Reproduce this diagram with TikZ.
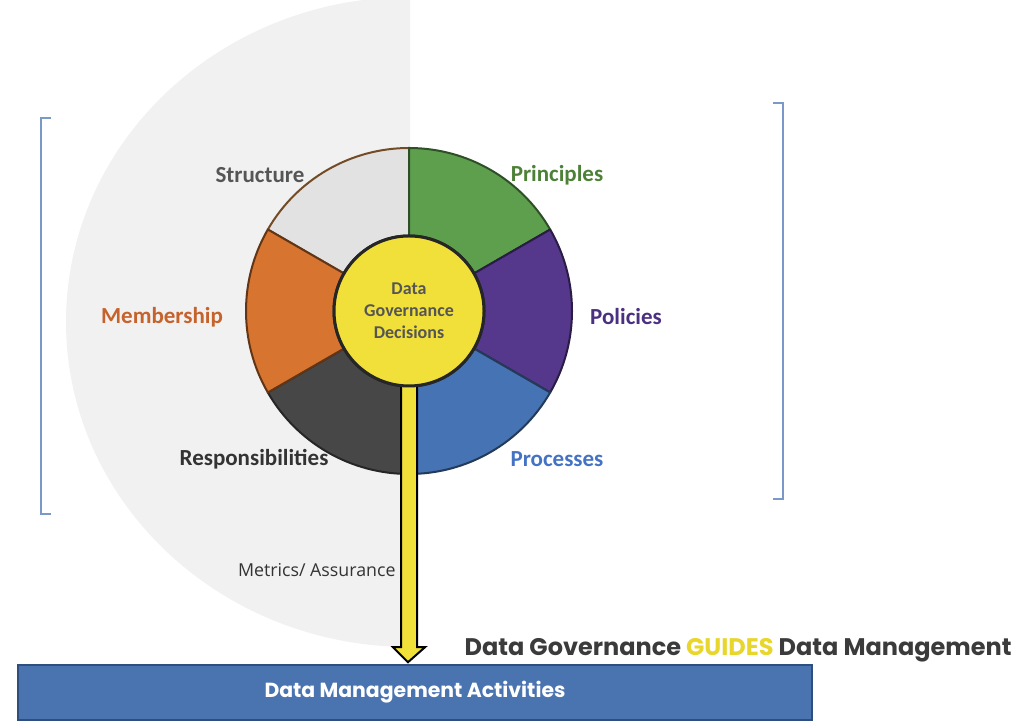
\documentclass[tikz,border=0pt]{standalone}
\usepackage{fontspec}
\setmainfont{Carlito}
\newfontfamily\titlefont{Poppins}
\newfontfamily\notefont{Open Sans}
\usetikzlibrary{positioning,calc,shapes}
\definecolor{backgray}{HTML}{F1F1F1}
\definecolor{bracketblue}{HTML}{7A98C8}
\definecolor{strucfill}{HTML}{E2E2E2}
\definecolor{structext}{HTML}{555555}
\definecolor{princfill}{HTML}{5E9F4E}
\definecolor{princtext}{HTML}{4D8138}
\definecolor{polfill}{HTML}{55378B}
\definecolor{poltext}{HTML}{4B2F80}
\definecolor{procfill}{HTML}{4673B3}
\definecolor{proctext}{HTML}{4472C4}
\definecolor{respfill}{HTML}{474747}
\definecolor{resptext}{HTML}{333333}
\definecolor{membfill}{HTML}{D77530}
\definecolor{membtext}{HTML}{C6622B}
\definecolor{decyellow}{HTML}{F1E03A}
\definecolor{guideyellow}{HTML}{E9D62C}
\definecolor{barblue}{HTML}{4A74B0}
\definecolor{barline}{HTML}{2E4E80}
\definecolor{titlegray}{HTML}{3B3B3B}
\newcommand{\segment}[4]{%
  \draw[segline, fill=#3, draw=#4]
    ($(cen)+(#1:163)$) arc[start angle=#1, end angle=#2, radius=163]
    -- ($(cen)+(#2:75)$) arc[start angle=#2, end angle=#1, radius=75] -- cycle;}

\begin{document}
\begin{tikzpicture}[x=0.5pt, y=0.5pt,
    segline/.style={line width=1pt, line join=round},
    seglabel/.style={font=\bfseries\fontsize{11.5}{13}\selectfont},
    bracket/.style={draw=bracketblue, line width=0.6pt}]
  \useasboundingbox (0,0) rectangle (1026,721);

  % Grey half disc behind the left part
  \fill[backgray] (410,724) arc[start angle=90, end angle=270, x radius=344, y radius=325] -- cycle;

  % Brackets
  \draw[bracket] (51,603) -- (41,603) -- (41,207) -- (51,207);
  \draw[bracket] (773,618) -- (783,618) -- (783,222) -- (773,222);

  % Ring of six segments
  \coordinate (cen) at (409,410);
  \segment{90}{150}{strucfill}{brown!60!black}
  \segment{30}{90}{princfill}{princfill!50!black}
  \segment{-30}{30}{polfill}{polfill!50!black}
  \segment{-90}{-30}{procfill}{procfill!50!black}
  \segment{210}{270}{respfill}{black!85}
  \segment{150}{210}{membfill}{membfill!45!black}

  % Labels round the ring
  \node[seglabel, text=structext] (struc) at (260,546) {Structure};
  \node[seglabel, text=princtext] (princ) at (557,546) {Principles};
  \node[seglabel, text=poltext] (pol) at (626,404) {Policies};
  \node[seglabel, text=proctext] (proc) at (557,262) {Processes};
  \node[seglabel, text=resptext] (resp) at (254,262) {Responsibilities};
  \node[seglabel, text=membtext] (memb) at (162,404) {Membership};

  % Bar at the bottom
  \node[draw=barline, fill=barblue, line width=0.8pt, minimum width=397pt, minimum height=27.5pt,
    text=white, font=\titlefont\bfseries\fontsize{10.2}{12}\selectfont] (bar) at (415,28.5)
    {Data Management Activities};

  % Centre and arrow down to the bar
  \node[circle, draw=black!85, line width=1.5pt, fill=decyellow, minimum size=75pt] (dec) at (cen) {};
  \coordinate (tip) at ($(bar.north)+(-7,2)$);
  \draw[fill=decyellow, draw=black, line width=1pt, line join=miter]
    ($(dec.south)+(-8,4)$) -- ($(dec.south |- tip)+(-8,15)$) -- ($(dec.south |- tip)+(-16,15)$)
    -- (tip) -- ($(dec.south |- tip)+(16,15)$) -- ($(dec.south |- tip)+(8,15)$) -- ($(dec.south)+(8,4)$);
  \node[circle, draw=black!85, line width=1.5pt, fill=decyellow, minimum size=75pt, align=center,
    text=structext, font=\bfseries\fontsize{9}{11}\selectfont] (dec) at (cen)
    {Data\\Governance\\Decisions};

  % Notes
  \node[anchor=east, inner sep=0pt, text=resptext, font=\notefont\fontsize{8.9}{10}\selectfont] (metric) at (396,151)
    {Metrics/ Assurance};
  \node[anchor=east, inner sep=0pt, text=titlegray, font=\titlefont\bfseries\fontsize{12}{14}\selectfont] (guide) at (1012,71)
    {Data Governance \textcolor{guideyellow}{GUIDES} Data Management};
\end{tikzpicture}
\end{document}
